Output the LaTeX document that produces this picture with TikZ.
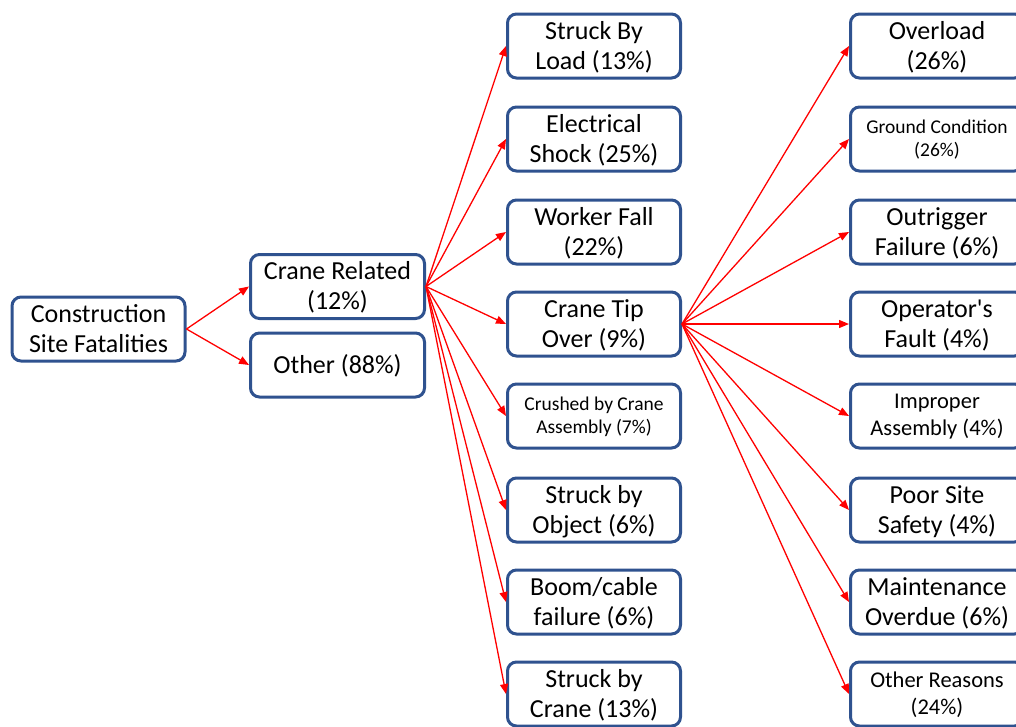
\documentclass[tikz,border=0pt]{standalone}
\usepackage{fontspec}
\setmainfont{Carlito}
\usetikzlibrary{arrows.meta}
\definecolor{boxblue}{RGB}{47,82,143}
\begin{document}
\begin{tikzpicture}[x=1pt,y=-1pt,
  box/.style={draw=boxblue, line width=3pt, rounded corners=9pt, fill=white,
    minimum width=173pt, minimum height=64pt, inner sep=0pt, align=center,
    text depth=1.5pt,
    font=\fontsize{26}{30}\selectfont},
  smallbox/.style={box, font=\fontsize{19.5}{23.5}\selectfont},
  midbox/.style={box, font=\fontsize{22.5}{27}\selectfont},
  arr/.style={draw=red, line width=1.3pt, -{Triangle[length=10pt,width=8pt]}}]
\useasboundingbox (0,0) rectangle (1016,726);
\clip (0,0) rectangle (1016,726);
\fill[white] (0,0) rectangle (1016,726);

\node[box] (root) at (98.5,329) {Construction\\Site Fatalities};
\node[box, minimum width=174pt] (crane) at (337.5,286.5) {Crane Related\\(12\%)};
\node[box, minimum width=174pt] (other) at (337.5,365) {Other (88\%)};

\node[box] (m1) at (594,46) {Struck By\\Load (13\%)};
\node[box] (m2) at (594,139) {Electrical\\Shock (25\%)};
\node[box] (m3) at (594,232) {Worker Fall\\(22\%)};
\node[box] (m4) at (594,324) {Crane Tip\\Over (9\%)};
\node[smallbox] (m5) at (594,416) {Crushed by Crane\\Assembly (7\%)};
\node[box] (m6) at (594,510) {Struck by\\Object (6\%)};
\node[box] (m7) at (594,602) {Boom/cable\\failure (6\%)};
\node[box] (m8) at (594,694) {Struck by\\Crane (13\%)};

\node[box] (r1) at (937,46) {Overload\\(26\%)};
\node[smallbox] (r2) at (937,139) {Ground Condition\\(26\%)};
\node[box] (r3) at (937,232) {Outrigger\\Failure (6\%)};
\node[box] (r4) at (937,324) {Operator\textquotesingle s\\Fault (4\%)};
\node[midbox] (r5) at (937,416) {Improper\\Assembly (4\%)};
\node[box] (r6) at (937,510) {Poor Site\\Safety (4\%)};
\node[box] (r7) at (937,602) {Maintenance\\Overdue (6\%)};
\node[midbox] (r8) at (937,694) {Other Reasons\\(24\%)};

\draw[arr] (root.east) -- (crane.west);
\draw[arr] (root.east) -- (other.west);
\foreach \i in {1,...,8} {
  \draw[arr] (crane.east) -- (m\i.west);
  \draw[arr] (m4.east) -- (r\i.west);
}
\end{tikzpicture}
\end{document}
